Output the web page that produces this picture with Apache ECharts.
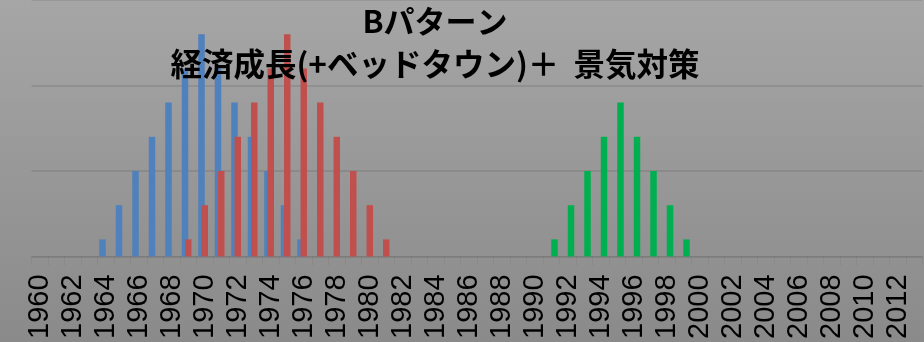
<!DOCTYPE html>
<html>
<head>
<meta charset="utf-8">
<script src="https://cdn.jsdelivr.net/npm/echarts@6/dist/echarts.min.js"></script>
<style>
  html, body { margin: 0; padding: 0; }
  #chart { width: 924px; height: 342px; }
</style>
</head>
<body>
<div id="chart"></div>
<script>
// Category axis: one slot per year
const years = [
  '1960','1961','1962','1963','1964','1965','1966','1967','1968','1969',
  '1970','1971','1972','1973','1974','1975','1976','1977','1978','1979',
  '1980','1981','1982','1983','1984','1985','1986','1987','1988','1989',
  '1990','1991','1992','1993','1994','1995','1996','1997','1998','1999',
  '2000','2001','2002','2003','2004','2005','2006','2007','2008','2009',
  '2010','2011','2012','2013'
];

// Economic growth wave
const growthYears  = ['1964','1965','1966','1967','1968','1969','1970','1971','1972','1973','1974','1975','1976'];
const growthValues = [1, 3, 5, 7, 9, 11, 13, 11, 9, 7, 5, 3, 1];

// Commuter-town wave
const townYears  = ['1969','1970','1971','1972','1973','1974','1975','1976','1977','1978','1979','1980','1981'];
const townValues = [1, 3, 5, 7, 9, 11, 13, 11, 9, 7, 5, 3, 1];

// Stimulus wave
const stimulusYears  = ['1991','1992','1993','1994','1995','1996','1997','1998','1999'];
const stimulusValues = [1, 3, 5, 7, 9, 7, 5, 3, 1];

const titleLine1 = 'Bパターン';
const titleLine2 = '経済成長(+ベッドタウン)＋  景気対策';

function pairs(ys, vs) {
  return ys.map((y, i) => [y, vs[i]]);
}

const chart = echarts.init(document.getElementById('chart'), null, { renderer: 'canvas' });

chart.setOption({
  animation: false,
  backgroundColor: {
    type: 'linear', x: 0, y: 0, x2: 0, y2: 1,
    colorStops: [
      { offset: 0, color: '#a6a6a6' },
      { offset: 1, color: '#8a8a8a' }
    ]
  },
  title: {
    left: 430,
    top: -3,
    textAlign: 'center',
    text: '{a|' + titleLine1 + '}\n{b|' + titleLine2 + '}',
    textStyle: {
      rich: {
        a: {
          fontFamily: '"Noto Sans CJK JP", sans-serif',
          fontWeight: 'bold',
          fontSize: 31,
          color: '#000',
          lineHeight: 38,
          align: 'center'
        },
        b: {
          fontFamily: '"Noto Sans CJK JP", sans-serif',
          fontWeight: 'bold',
          fontSize: 31.5,
          color: '#000',
          lineHeight: 48,
          align: 'center'
        }
      }
    }
  },
  grid: {
    left: 31.5,
    right: 1.5,
    top: -3.5,
    bottom: 84.5,
    containLabel: false
  },
  xAxis: {
    type: 'category',
    data: years,
    boundaryGap: true,
    axisLine: { show: true, lineStyle: { color: 'rgba(0,0,0,0.04)', width: 1 } },
    axisTick: { show: true, interval: 0, length: 9, lineStyle: { color: 'rgba(0,0,0,0.045)' } },
    axisLabel: {
      interval: 1,
      rotate: 90,
      margin: 18,
      fontFamily: '"Liberation Sans", Arial, sans-serif',
      fontSize: 29,
      color: '#000'
    },
    splitLine: { show: false }
  },
  yAxis: {
    type: 'value',
    min: 0,
    max: 15,
    interval: 5,
    axisLine: { show: false },
    axisTick: { show: false },
    axisLabel: { show: false },
    splitLine: { show: true, lineStyle: { color: 'rgba(0,0,0,0.09)', width: 2 } }
  },
  series: [
    {
      name: '経済成長',
      type: 'bar',
      data: pairs(growthYears, growthValues),
      barWidth: 6.5,
      barGap: '-50%',
      itemStyle: { color: '#4f81bd' }
    },
    {
      name: 'ベッドタウン',
      type: 'bar',
      data: pairs(townYears, townValues),
      barWidth: 6.5,
      barGap: '-50%',
      itemStyle: { color: '#c0504d' }
    },
    {
      name: '景気対策',
      type: 'bar',
      data: pairs(stimulusYears, stimulusValues),
      barWidth: 6.5,
      barGap: '-50%',
      itemStyle: { color: '#00b050' }
    }
  ]
});
</script>
</body>
</html>
